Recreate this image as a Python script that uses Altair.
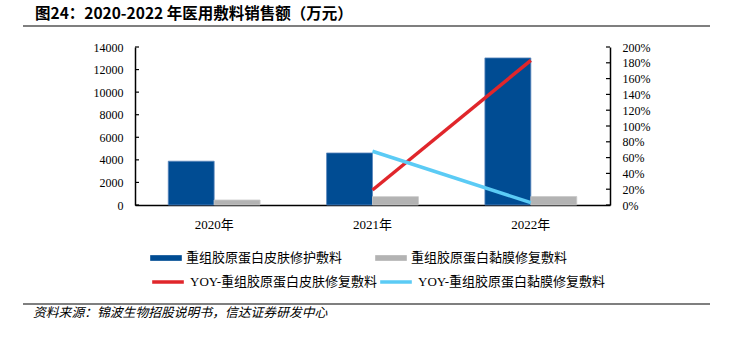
import altair as alt
import pandas as pd

years = ["2020年", "2021年", "2022年"]
bar_series = ["重组胶原蛋白皮肤修护敷料", "重组胶原蛋白黏膜修复敷料"]
skin_sales = [3880, 4610, 13030]
mucosa_sales = [440, 740, 750]
line_series = ["YOY-重组胶原蛋白皮肤修复敷料", "YOY-重组胶原蛋白黏膜修复敷料"]
skin_yoy = [None, 0.19, 1.83]
mucosa_yoy = [None, 0.68, 0.03]
left_ticks = [0, 2000, 4000, 6000, 8000, 10000, 12000, 14000]
right_ticks = [0, 0.2, 0.4, 0.6, 0.8, 1.0, 1.2, 1.4, 1.6, 1.8, 2.0]

title_text = "图24：2020-2022 年医用敷料销售额（万元）"
source_text = "资料来源：锦波生物招股说明书，信达证券研发中心"

W, H = 475, 158
SERIF = "Liberation Serif, Times New Roman, Noto Sans CJK SC"
CJK = "Noto Sans CJK SC"

bars_df = pd.DataFrame(
    [{"year": y, "series": bar_series[0], "value": v} for y, v in zip(years, skin_sales)]
    + [{"year": y, "series": bar_series[1], "value": v} for y, v in zip(years, mucosa_sales)]
)
lines_df = pd.DataFrame(
    [{"year": y, "series": line_series[0], "yoy": v} for y, v in zip(years, skin_yoy) if v is not None]
    + [{"year": y, "series": line_series[1], "yoy": v} for y, v in zip(years, mucosa_yoy) if v is not None]
)
lt_df = pd.DataFrame({"value": left_ticks})
rt_df = pd.DataFrame({"yoy": right_ticks})
one = pd.DataFrame({"a": [0]})

left_axis = alt.Axis(
    title=None, values=left_ticks, format="d", ticks=False, grid=False,
    domainColor="#000000", domainWidth=1.5, labelFont=SERIF, labelFontSize=12,
    labelColor="#000000", labelPadding=12,
)
right_axis = alt.Axis(
    title=None, orient="right", values=right_ticks, format=".0%", ticks=False, grid=False,
    domainColor="#000000", domainWidth=1.5, labelFont=SERIF, labelFontSize=12,
    labelColor="#000000", labelPadding=12,
)
left_scale = alt.Scale(domain=[0, 14000], nice=False)
right_scale = alt.Scale(domain=[0, 2], nice=False)

x_enc = alt.X(
    "year:N",
    sort=years,
    scale=alt.Scale(domain=years, paddingInner=0.42, paddingOuter=0.21),
    axis=alt.Axis(
        title=None, labelAngle=0, ticks=False, domainColor="#000000", domainWidth=1.5,
        labelFont=SERIF, labelFontSize=13, labelColor="#000000", labelPadding=13, grid=False,
    ),
)

bars = alt.Chart(bars_df).mark_bar(strokeWidth=0.8).encode(
    x=x_enc,
    xOffset=alt.XOffset("series:N", scale=alt.Scale(domain=bar_series, paddingInner=0, paddingOuter=0)),
    y=alt.Y("value:Q", scale=left_scale, axis=left_axis),
    color=alt.Color(
        "series:N",
        scale=alt.Scale(domain=bar_series, range=["#004C93", "#B3B3B3"]),
        legend=alt.Legend(
            title=None, orient="none", legendX=15, legendY=195, direction="horizontal",
            columns=2, columnPadding=32, symbolType="M-1,-0.18H1V0.18H-1Z", symbolSize=1000,
            symbolStrokeWidth=0, labelFont=SERIF, labelFontSize=13, labelColor="#000000",
            labelOffset=4, labelLimit=400,
        ),
    ),
    stroke=alt.condition(alt.datum.series == bar_series[0], alt.value("#5b86bd"), alt.value("#c8c8c8")),
)

lticks = alt.Chart(lt_df).mark_rule(color="#000000", strokeWidth=1.2).encode(
    y=alt.Y("value:Q", scale=left_scale, axis=left_axis),
    x=alt.value(0), x2=alt.value(4),
)

lines = alt.Chart(lines_df).mark_line(strokeWidth=3.5, strokeCap="butt").encode(
    x=alt.X("year:N", sort=years),
    y=alt.Y("yoy:Q", scale=right_scale, axis=right_axis),
    stroke=alt.Stroke(
        "series:N",
        scale=alt.Scale(domain=line_series, range=["#E0262B", "#5BCBF5"]),
        legend=alt.Legend(
            title=None, orient="none", legendX=15, legendY=217, direction="horizontal",
            columns=2, columnPadding=-40, symbolType="stroke", symbolSize=1000,
            symbolStrokeWidth=3.5, labelFont=SERIF, labelFontSize=13, labelColor="#000000",
            labelOffset=4, labelLimit=400,
        ),
    ),
    detail="series:N",
)

rticks = alt.Chart(rt_df).mark_rule(color="#000000", strokeWidth=1.2).encode(
    y=alt.Y("yoy:Q", scale=right_scale, axis=right_axis),
    x=alt.value(W - 4), x2=alt.value(W),
)

title_mark = alt.Chart(one).mark_text(
    align="left", baseline="middle", font=CJK, fontSize=15.5, fontWeight="bold", color="#000000"
).encode(x=alt.value(-100), y=alt.value(-33), text=alt.value(title_text))

title_rule = alt.Chart(one).mark_rule(color="#7f7f7f", strokeWidth=2).encode(
    x=alt.value(-112), x2=alt.value(575), y=alt.value(-21)
)
foot_rule = alt.Chart(one).mark_rule(color="#7f7f7f", strokeWidth=2).encode(
    x=alt.value(-112), x2=alt.value(575), y=alt.value(257)
)
source_mark = alt.Chart(one).mark_text(
    align="left", baseline="middle", font=CJK, fontSize=12.8, fontStyle="italic", color="#000000"
).encode(x=alt.value(-102), y=alt.value(266), text=alt.value(source_text))

left = alt.layer(bars, lticks)
right = alt.layer(lines, rticks)

chart = (
    alt.layer(left, right, title_mark, title_rule, foot_rule, source_mark)
    .resolve_scale(y="independent", color="independent", stroke="independent")
    .properties(
        width=W, height=H,
        autosize=alt.AutoSizeParams(type="none"),
        padding={"left": 135, "top": 47, "right": 120, "bottom": 132},
        background="#ffffff",
    )
    .configure_view(stroke=None)
)

chart.save("out.html", embed_options={"renderer": "svg", "actions": False})
